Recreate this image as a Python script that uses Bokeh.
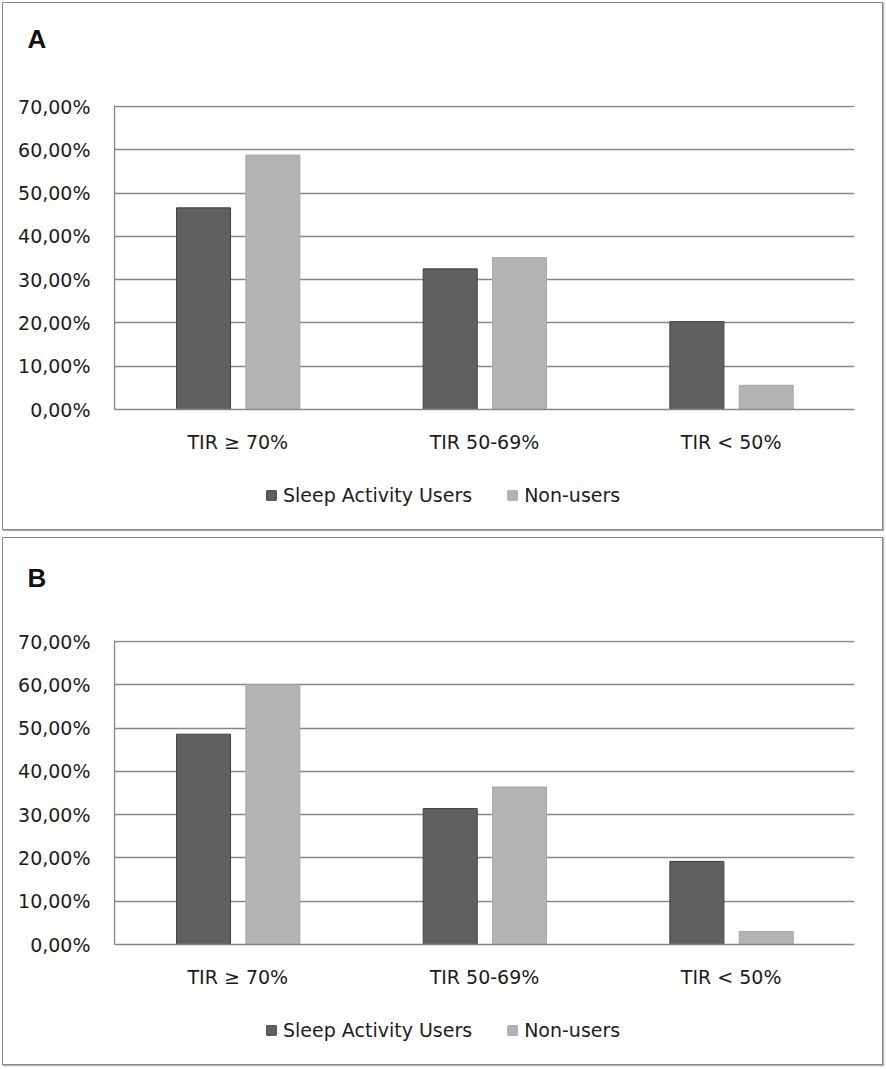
from bokeh.plotting import figure
from bokeh.layouts import column
from bokeh.models import FixedTicker, Legend, LegendItem, Title
from bokeh.transform import dodge
from bokeh.embed import file_html
from bokeh.resources import INLINE

categories = ["TIR ≥ 70%", "TIR 50-69%", "TIR < 50%"]
series_names = ["Sleep Activity Users", "Non-users"]
panel_a_users = [46.6, 32.5, 20.3]
panel_a_nonusers = [58.8, 35.1, 5.6]
panel_b_users = [48.6, 31.4, 19.2]
panel_b_nonusers = [60.0, 36.4, 3.0]
y_ticks = [0, 10, 20, 30, 40, 50, 60, 70]
y_tick_labels = ["0,00%", "10,00%", "20,00%", "30,00%", "40,00%", "50,00%", "60,00%", "70,00%"]

FONT = "DejaVu Sans"
FSIZE = "19px"
TXT = "#1c1c1c"
GRID = "#878787"
DARK = "#606060"
DARK_LINE = "#3f3f3f"
LIGHT = "#b3b3b3"
LIGHT_LINE = "#a9a9a9"

FW, FH = 740, 304
ML, MR = 111, 28
MB = 61
LEG_H = 59


def add_bars(fig, src):
    r1 = fig.vbar(x=dodge("cat", -0.139, range=fig.x_range), top="users", width=0.219, source=src,
                  fill_color=DARK, line_color=DARK_LINE, line_width=1)
    r2 = fig.vbar(x=dodge("cat", 0.142, range=fig.x_range), top="nonusers", width=0.219, source=src,
                  fill_color=LIGHT, line_color=LIGHT_LINE, line_width=1)
    return r1, r2


def strip(height):
    s = figure(frame_width=FW, height=height, x_range=categories, y_range=(1000, 1001),
               min_border_left=ML, min_border_right=MR, min_border_top=0, min_border_bottom=0,
               x_axis_type=None, y_axis_type=None,
               output_backend="svg", toolbar_location=None, tools="")
    s.grid.visible = False
    s.outline_line_color = None
    s.background_fill_color = "white"
    s.border_fill_color = "white"
    return s


def make_panel(letter, users, nonusers, top_h, title_standoff):
    src = dict(cat=categories, users=users, nonusers=nonusers)

    # top strip with the panel letter
    top = strip(top_h)
    top.add_layout(Title(text=letter, align="left", offset=-87, standoff=title_standoff,
                         text_font="Liberation Sans", text_font_style="bold",
                         text_font_size="26px", text_color="#111111"), "above")

    p = figure(x_range=categories, y_range=(0, 70.25), frame_width=FW, frame_height=FH,
               min_border_left=ML, min_border_right=MR, min_border_top=102 - top_h,
               min_border_bottom=MB,
               output_backend="svg", toolbar_location=None, tools="")
    p.background_fill_color = "white"
    p.border_fill_color = "white"
    add_bars(p, src)
    p.outline_line_color = None
    p.xgrid.grid_line_color = None
    p.ygrid.grid_line_color = GRID
    p.ygrid.grid_line_width = 1.3
    p.yaxis.ticker = FixedTicker(ticks=y_ticks)
    p.yaxis.major_label_overrides = {t: l for t, l in zip(y_ticks, y_tick_labels)}
    for ax in (p.xaxis, p.yaxis):
        ax.axis_line_color = GRID
        ax.axis_line_width = 1.3
        ax.major_tick_line_color = None
        ax.minor_tick_line_color = None
        ax.major_label_text_font = FONT
        ax.major_label_text_font_size = FSIZE
        ax.major_label_text_color = TXT
    p.yaxis.major_label_standoff = 18
    p.xaxis.major_label_standoff = 15
    p.x_range.range_padding = 0

    # legend strip (same bars, drawn outside its visible range; only the legend shows)
    lg = strip(LEG_H)
    e1, e2 = add_bars(lg, src)
    legend = Legend(items=[LegendItem(label=series_names[0], renderers=[e1]),
                           LegendItem(label=series_names[1], renderers=[e2])],
                    location=(151, 23), orientation="horizontal",
                    glyph_width=12, glyph_height=12, label_standoff=6, spacing=34,
                    padding=0, margin=0, border_line_color=None, background_fill_alpha=0,
                    label_text_font=FONT, label_text_font_size=FSIZE, label_text_color=TXT)
    lg.add_layout(legend, "center")

    box = column(top, p, lg, spacing=0)
    box.styles = {"border": "1px solid #8a8a8a", "box-shadow": "1px 1px 1px #b0b0b0"}
    return box


pa = make_panel("A", panel_a_users, panel_a_nonusers, 70, 39)
pb = make_panel("B", panel_b_users, panel_b_nonusers, 78, 47)
layout = column(pa, pb, spacing=7)
layout.styles = {"margin-left": "2px", "margin-top": "2px"}

open("out.html", "w").write(file_html(layout, INLINE))
